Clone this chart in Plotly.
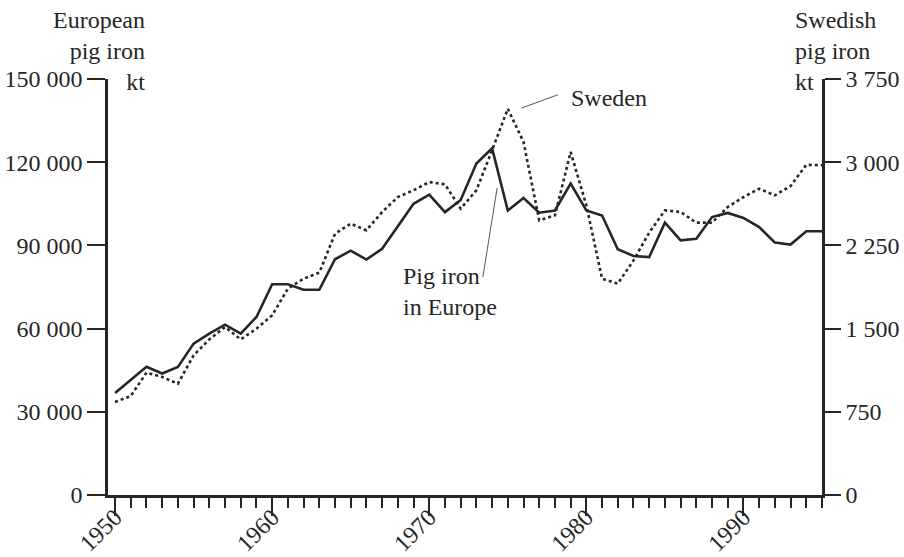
import plotly.graph_objects as go

# Annual pig iron production, 1950-1995 (kilotonnes)
years = list(range(1950, 1996))

europe_kt = [
    36800, 41500, 46200, 43800, 46200, 54600, 58200, 61400, 58200, 64200,
    76000, 76000, 74000, 74000, 85000, 88100, 84900, 88800, 97000, 105000,
    108300, 102000, 106400, 119500, 125000, 102600, 107100, 101800, 102600, 112300,
    102600, 100800, 88600, 86200, 85800, 98200, 91800, 92400, 100200, 101700,
    99900, 96600, 91000, 90300, 95100, 95100,
]

sweden_kt = [
    838, 892, 1103, 1064, 1003, 1259, 1403, 1514, 1403, 1499,
    1620, 1860, 1950, 2004, 2355, 2446, 2386, 2551, 2686, 2747,
    2821, 2800, 2581, 2747, 3107, 3482, 3182, 2476, 2521, 3092,
    2611, 1950, 1905, 2115, 2365, 2566, 2551, 2455, 2455, 2596,
    2686, 2761, 2701, 2785, 2977, 2972,
]

decade_ticks = [1950, 1960, 1970, 1980, 1990]
left_ticks = [0, 30000, 60000, 90000, 120000, 150000]
left_labels = ["0", "30 000", "60 000", "90 000", "120 000", "150 000"]
right_ticks = [0, 750, 1500, 2250, 3000, 3750]
right_labels = ["0", "750", "1 500", "2 250", "3 000", "3 750"]

INK = "#262626"
FONT = "Liberation Serif, Times New Roman, serif"
FS = 24

fig = go.Figure()
fig.add_trace(go.Scatter(
    x=years, y=europe_kt, mode="lines", name="Pig iron in Europe",
    line=dict(color=INK, width=2.6), yaxis="y",
))
fig.add_trace(go.Scatter(
    x=years, y=sweden_kt, mode="lines", name="Sweden",
    line=dict(color=INK, width=2.6, dash="dot"), yaxis="y2",
))

axis_common = dict(
    showline=True, linecolor=INK, linewidth=2.5, showgrid=False, zeroline=False,
    ticks="outside", tickcolor=INK, tickwidth=2, automargin=False,
    tickfont=dict(family=FONT, size=FS, color=INK),
)

fig.update_layout(
    width=904, height=557,
    margin=dict(l=108, r=82, t=79, b=62),
    paper_bgcolor="white", plot_bgcolor="white",
    showlegend=False,
    font=dict(family=FONT, size=FS, color=INK),
    xaxis=dict(
        **axis_common,
        range=[1949.55, 1995], tickvals=decade_ticks, ticklen=18,
        tickangle=-45, ticklabelstandoff=-22,
        minor=dict(ticks="outside", dtick=1, tick0=1950, ticklen=10,
                   tickwidth=2, tickcolor=INK),
    ),
    yaxis=dict(
        **axis_common,
        range=[0, 150000], tickvals=left_ticks, ticktext=left_labels, ticklen=18,
    ),
    yaxis2=dict(
        **axis_common,
        range=[0, 3750], tickvals=right_ticks, ticktext=right_labels, ticklen=16,
        overlaying="y", side="right",
    ),
)

# Axis titles
fig.add_annotation(
    text="European<br>pig iron<br>kt", xref="paper", yref="paper",
    x=0.0546, y=1.178, xanchor="right", yanchor="top", align="right",
    showarrow=False, font=dict(family=FONT, size=FS, color=INK),
)
fig.add_annotation(
    text="Swedish<br>pig iron<br>kt", xref="paper", yref="paper",
    x=0.960, y=1.178, xanchor="left", yanchor="top", align="left",
    showarrow=False, font=dict(family=FONT, size=FS, color=INK),
)

# Series labels with leader lines
fig.add_annotation(
    text="Sweden", xref="paper", yref="paper", x=0.645, y=0.954,
    xanchor="left", yanchor="middle", showarrow=False,
    font=dict(family=FONT, size=FS, color=INK),
)
fig.add_annotation(
    text="Pig iron<br>in Europe", xref="paper", yref="paper", x=0.411, y=0.488,
    xanchor="left", yanchor="middle", align="left", showarrow=False,
    font=dict(family=FONT, size=FS, color=INK),
)
fig.add_shape(type="line", xref="paper", yref="paper",
              x0=0.579, y0=0.930, x1=0.630, y1=0.962,
              line=dict(color="#555555", width=1))
fig.add_shape(type="line", xref="paper", yref="paper",
              x0=0.525, y0=0.524, x1=0.545, y1=0.738,
              line=dict(color="#555555", width=1))

fig.write_html("out.html")
